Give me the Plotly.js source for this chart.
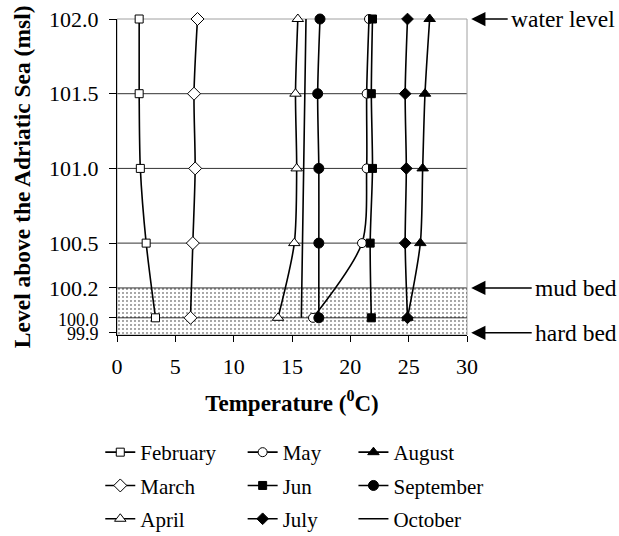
<!DOCTYPE html>
<html>
<head>
<meta charset="utf-8">
<script src="https://cdn.plot.ly/plotly-3.0.1.min.js"></script>
<style>html,body{margin:0;padding:0;background:#fff;}#chart{width:619px;height:536px;}</style>
</head>
<body>
<div id="chart"></div>
<script>
// Levels (m above Adriatic Sea) at which temperature was measured
const levels = [102.0, 101.5, 101.0, 100.5, 100.0];

// Temperatures (°C) per month at each level
const february  = [1.9, 1.9, 2.0, 2.5, 3.3];
const march     = [6.9, 6.6, 6.7, 6.5, 6.3];
const april     = [15.5, 15.3, 15.4, 15.2, 13.8];
const may       = [21.6, 21.4, 21.4, 21.0, 16.8];
const jun       = [21.9, 21.8, 21.9, 21.7, 21.8];
const july      = [24.9, 24.7, 24.8, 24.7, 24.9];
const august    = [26.8, 26.4, 26.2, 26.0, 24.9];
const september = [17.4, 17.2, 17.3, 17.3, 17.3];
const october   = [16.2, 16.1, 16.0, 15.9, 15.8];

// Axis ticks
const xTicks = [0, 5, 10, 15, 20, 25, 30];
const yTickVals = [102.0, 101.5, 101.0, 100.5, 100.2, 100.0, 99.9];
const yTickText = ['102.0', '101.5', '101.0', '100.5', '100.2',
  '<span style="font-size:18px">100.0</span>', '<span style="font-size:18px">99.9</span>'];
const gridLevels = [101.5, 101.0, 100.5, 100.2, 100.0];

// Reference levels with labels
const waterLevel = 102.0;
const mudBed = 100.2;
const hardBed = 99.9;
const yBottom = 99.885;
const xMin = 0, xMax = 30;

const serif = "'Liberation Serif', 'Times New Roman', Times, serif";

function series(name, xs, symbol, fill, size, legend, group) {
  const t = {
    type: 'scatter', mode: symbol ? 'lines+markers' : 'lines',
    name: name, x: xs, y: levels, cliponaxis: false,
    line: {color: '#000', width: 1.6, shape: 'spline', smoothing: 0.8},
    legend: legend, legendgroup: group,
    hoverinfo: 'x+y'
  };
  if (symbol) {
    t.marker = {symbol: symbol, size: size, color: fill, line: {color: '#000', width: 1}};
  }
  return t;
}

const stipple = {
  type: 'scatter', mode: 'lines',
  x: [xMin, xMax, xMax, xMin, xMin],
  y: [yBottom, yBottom, mudBed, mudBed, yBottom],
  fill: 'toself',
  fillcolor: 'rgba(0,0,0,0)',
  fillpattern: {shape: '.', fgcolor: '#000', bgcolor: 'rgba(0,0,0,0)', size: 4, solidity: 0.08},
  line: {width: 0, color: 'rgba(0,0,0,0)'},
  showlegend: false, hoverinfo: 'skip'
};

const traces = [
  stipple,
  series('February', february, 'square', '#fff', 8, 'legend', 'g1'),
  series('March', march, 'diamond', '#fff', 10, 'legend', 'g2'),
  series('April', april, 'triangle-up', '#fff', 10, 'legend', 'g3'),
  series('May', may, 'circle', '#fff', 9, 'legend2', 'g4'),
  series('Jun', jun, 'square', '#000', 8, 'legend2', 'g5'),
  series('July', july, 'diamond', '#000', 9, 'legend2', 'g6'),
  series('August', august, 'triangle-up', '#000', 10, 'legend3', 'g7'),
  series('September', september, 'circle', '#000', 10, 'legend3', 'g8'),
  series('October', october, null, null, 0, 'legend3', 'g9')
];

const shapes = gridLevels.map(v => ({
  type: 'line', xref: 'paper', x0: 0, x1: 1, yref: 'y', y0: v, y1: v,
  line: {color: '#333', width: 1}, layer: 'below'
}));
shapes.push({type: 'rect', xref: 'paper', yref: 'paper', x0: 0, x1: 1, y0: 0, y1: 1,
  line: {color: '#a0a0a0', width: 1}, layer: 'below'});

const legendBase = {
  yref: 'container', xref: 'container', y: 0.194, yanchor: 'top', xanchor: 'left',
  font: {family: serif, size: 21, color: '#000'}, tracegroupgap: 3,
  bgcolor: 'rgba(0,0,0,0)', borderwidth: 0, traceorder: 'grouped'
};

// labelled arrows on the right: [level, offset of text centre from arrow tip (px), label]
const arrowDefs = [[waterLevel, 92, 'water level'], [mudBed, 105, 'mud bed'], [hardBed, 105, 'hard bed']];
const annotations = arrowDefs.map(([lvl, off, label]) => ({
  xref: 'paper', yref: 'y', x: 1.012, y: lvl, text: label, showarrow: true,
  ax: off, ay: 0, arrowhead: 2, arrowsize: 1.9, arrowwidth: 1.5, arrowcolor: '#000', standoff: 0,
  borderpad: 3, font: {family: serif, size: 23.5, color: '#000'}
}));
// y-axis title
annotations.push({xref: 'paper', yref: 'paper', x: -0.271, y: 0.5, xanchor: 'center', yanchor: 'middle',
  textangle: -90, showarrow: false, text: '<b>Level above the Adriatic Sea (msl)</b>',
  font: {family: serif, size: 23.5, color: '#000'}});

const layout = {
  width: 619, height: 536,
  margin: {l: 117, r: 152, t: 19, b: 201, autoexpand: false},
  paper_bgcolor: '#fff', plot_bgcolor: '#fff',
  font: {family: serif, color: '#000'},
  xaxis: {
    range: [xMin, xMax], tickvals: xTicks, ticks: 'outside', ticklen: 6, tickcolor: '#000',
    showline: true, linecolor: '#000', linewidth: 1, showgrid: false, zeroline: false,
    tickfont: {family: serif, size: 22, color: '#000'}, ticklabelstandoff: 6,
    title: {text: '<b>Temperature (<sup>0</sup>C)</b>', font: {family: serif, size: 23, color: '#000'}, standoff: 16}
  },
  yaxis: {
    range: [yBottom, 102.0], tickvals: yTickVals, ticktext: yTickText, ticks: 'outside', ticklen: 7, tickcolor: '#000',
    showline: true, linecolor: '#000', linewidth: 1, showgrid: false, zeroline: false,
    tickfont: {family: serif, size: 22, color: '#000'}, ticklabelstandoff: 6
  },
  shapes: shapes,
  annotations: annotations,
  legend: Object.assign({}, legendBase, {x: 0.162}),
  legend2: Object.assign({}, legendBase, {x: 0.392}),
  legend3: Object.assign({}, legendBase, {x: 0.571})
};

Plotly.newPlot('chart', traces, layout, {staticPlot: true});
</script>
</body>
</html>
